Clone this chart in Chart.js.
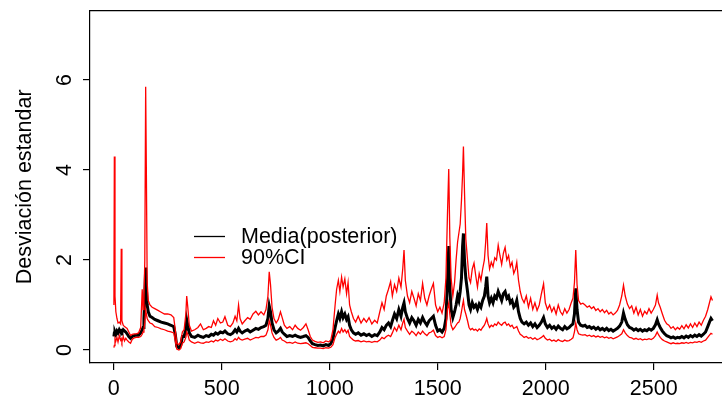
<!DOCTYPE html>
<html>
<head>
<meta charset="utf-8">
<script src="https://cdn.jsdelivr.net/npm/chart.js@4.4.1/dist/chart.umd.min.js"></script>
<style>
  html, body { margin: 0; padding: 0; background: #ffffff; overflow: hidden; }
  #wrap { width: 722px; height: 405px; }
</style>
</head>
<body>
<div id="wrap"><canvas id="c" width="722" height="405"></canvas></div>
<script>
// ---- data ----
const idx = [
  1,3,6,10,15,20,26,32,35,38,44,50,56,62,70,78,86,95,105,115,125,132,136,140,144,148,151,155,160,168,178,190,205,220,235,250,265,278,285,292,302,310,318,326,334,338,343,350,360,375,390,402,415,428,440,452,462,472,482,494,505,515,528,540,552,562,570,578,585,595,607,620,632,645,658,670,682,695,705,714,720,726,733,742,752,762,772,780,790,802,815,828,840,852,865,878,890,900,910,920,932,945,958,970,982,995,1005,1015,1025,1032,1040,1047,1055,1062,1070,1078,1085,1092,1100,1110,1120,1132,1145,1158,1170,1182,1195,1208,1220,1232,1242,1252,1262,1272,1282,1290,1300,1310,1320,1330,1338,1344,1350,1360,1370,1380,1390,1400,1410,1420,1430,1440,1450,1460,1470,1480,1490,1500,1510,1520,1530,1538,1545,1551,1556,1562,1570,1578,1585,1592,1598,1604,1610,1615,1619,1624,1630,1638,1645,1652,1660,1668,1676,1684,1692,1700,1708,1716,1722,1727,1733,1740,1748,1756,1764,1772,1780,1788,1796,1804,1812,1820,1828,1836,1844,1852,1860,1866,1874,1882,1890,1900,1910,1920,1930,1940,1950,1960,1970,1980,1990,1998,2008,2018,2028,2038,2048,2058,2068,2078,2088,2098,2108,2118,2126,2133,2139,2145,2152,2162,2172,2182,2192,2202,2212,2222,2232,2242,2252,2262,2272,2282,2292,2302,2312,2322,2332,2342,2352,2360,2368,2378,2388,2398,2408,2418,2428,2438,2448,2458,2468,2478,2488,2498,2508,2516,2522,2530,2540,2550,2560,2570,2580,2590,2600,2610,2620,2630,2640,2650,2660,2670,2680,2690,2700,2710,2720,2730,2740,2750,2758,2765,2772
];
const meanSD = [
  0.30,0.38,0.40,0.35,0.42,0.38,0.45,0.40,0.42,0.40,0.45,0.42,0.40,0.36,0.30,0.26,0.30,0.32,0.33,0.33,0.38,0.45,0.50,0.70,1.20,1.83,1.40,1.00,0.85,0.75,0.72,0.68,0.65,0.62,0.60,0.58,0.55,0.52,0.35,0.08,0.05,0.10,0.30,0.30,0.45,0.67,0.55,0.38,0.30,0.28,0.33,0.30,0.28,0.32,0.30,0.35,0.33,0.38,0.35,0.40,0.38,0.42,0.36,0.34,0.38,0.45,0.40,0.48,0.42,0.38,0.42,0.45,0.40,0.44,0.48,0.46,0.50,0.52,0.55,0.70,0.98,0.85,0.60,0.45,0.38,0.42,0.48,0.40,0.35,0.30,0.32,0.30,0.33,0.30,0.28,0.30,0.32,0.28,0.20,0.14,0.12,0.10,0.11,0.09,0.12,0.10,0.14,0.25,0.50,0.65,0.80,0.70,0.85,0.72,0.80,0.68,0.74,0.55,0.45,0.38,0.35,0.38,0.33,0.36,0.32,0.35,0.30,0.34,0.32,0.40,0.50,0.45,0.55,0.60,0.52,0.65,0.80,0.70,0.90,0.75,0.95,1.05,0.85,0.70,0.60,0.72,0.65,0.55,0.68,0.60,0.72,0.62,0.55,0.65,0.70,0.75,0.55,0.42,0.45,0.40,0.48,0.70,1.50,2.31,1.40,0.90,0.72,0.85,1.00,1.20,1.10,1.30,1.60,2.30,2.59,2.00,1.60,1.30,1.00,0.90,1.05,0.95,1.00,0.90,1.02,0.95,1.10,1.20,1.40,1.63,1.20,1.05,1.15,1.05,1.20,1.15,1.30,1.20,1.10,1.25,1.30,1.15,1.20,1.05,1.10,0.95,1.00,1.10,0.85,0.70,0.62,0.58,0.62,0.55,0.60,0.52,0.58,0.50,0.55,0.62,0.72,0.58,0.50,0.55,0.48,0.52,0.46,0.53,0.48,0.45,0.52,0.47,0.50,0.55,0.58,0.80,1.37,0.90,0.62,0.55,0.53,0.55,0.50,0.52,0.48,0.51,0.46,0.50,0.45,0.48,0.44,0.48,0.43,0.46,0.42,0.45,0.48,0.53,0.62,0.82,0.68,0.56,0.50,0.48,0.44,0.47,0.43,0.46,0.42,0.45,0.43,0.47,0.44,0.48,0.56,0.67,0.58,0.50,0.42,0.36,0.32,0.30,0.27,0.29,0.26,0.28,0.27,0.30,0.27,0.31,0.28,0.32,0.29,0.33,0.30,0.34,0.31,0.35,0.40,0.52,0.62,0.70,0.65
];
const upperCI = [
  1.00,4.30,1.20,0.85,0.70,0.60,0.62,0.58,2.25,0.65,0.55,0.52,0.50,0.48,0.40,0.32,0.35,0.36,0.36,0.38,0.50,1.35,0.90,1.10,2.00,5.85,4.10,1.50,1.10,1.00,0.95,0.92,0.88,0.84,0.80,0.80,0.78,0.72,0.45,0.15,0.12,0.18,0.40,0.45,0.80,1.20,0.95,0.55,0.42,0.45,0.50,0.58,0.45,0.48,0.52,0.50,0.65,0.55,0.70,0.60,0.62,0.74,0.55,0.52,0.60,0.75,0.65,1.00,0.70,0.58,0.65,0.72,0.68,0.80,0.86,0.78,0.85,0.78,0.90,1.20,1.74,1.45,0.95,0.70,0.60,0.68,0.85,0.72,0.55,0.48,0.52,0.45,0.55,0.48,0.44,0.50,0.58,0.45,0.30,0.22,0.19,0.17,0.18,0.16,0.20,0.18,0.22,0.45,1.00,1.35,1.55,1.30,1.62,1.40,1.58,1.25,1.50,1.00,0.85,0.70,0.62,0.75,0.60,0.70,0.62,0.72,0.58,0.66,0.60,0.85,1.05,0.90,1.20,1.35,1.52,1.20,1.45,1.30,1.60,1.40,1.80,2.22,1.55,1.20,1.05,1.30,1.15,0.98,1.25,1.10,1.48,1.15,1.00,1.20,1.35,1.48,1.00,0.85,0.95,0.82,1.05,1.60,3.00,4.02,2.50,1.60,1.20,1.50,2.00,2.40,2.60,2.80,3.33,3.90,4.52,3.50,2.47,2.00,1.60,1.50,1.80,1.93,1.65,1.40,1.70,1.55,1.80,2.00,2.40,2.82,2.10,1.80,1.95,1.85,2.05,2.00,2.33,2.10,1.90,2.15,2.28,2.00,2.10,1.85,1.95,1.70,1.80,1.95,1.55,1.30,1.15,1.05,1.20,0.95,1.15,0.90,1.05,0.88,1.00,1.25,1.47,1.05,0.90,1.00,0.85,0.95,0.80,1.00,0.85,0.78,0.92,0.82,0.90,1.05,1.15,1.50,2.22,1.45,1.10,1.02,1.04,1.00,0.95,0.98,0.92,0.96,0.88,0.92,0.85,0.90,0.83,0.88,0.80,0.84,0.78,0.82,0.88,1.00,1.20,1.44,1.20,1.02,0.92,0.98,0.82,0.95,0.78,0.90,0.75,0.86,0.80,0.92,0.82,0.90,1.00,1.22,1.05,0.95,0.80,0.66,0.58,0.55,0.48,0.52,0.45,0.50,0.46,0.54,0.47,0.56,0.49,0.58,0.50,0.60,0.52,0.62,0.55,0.66,0.75,0.90,1.05,1.18,1.10
];
const lowerCI = [
  0.05,0.10,0.25,0.20,0.28,0.18,0.32,0.22,0.25,0.18,0.30,0.20,0.26,0.22,0.18,0.15,0.24,0.27,0.28,0.28,0.30,0.35,0.40,0.45,0.60,0.90,0.80,0.70,0.65,0.60,0.58,0.52,0.50,0.47,0.45,0.42,0.40,0.38,0.20,0.02,0.00,0.03,0.15,0.18,0.28,0.40,0.35,0.22,0.18,0.15,0.18,0.16,0.15,0.18,0.17,0.20,0.18,0.22,0.20,0.24,0.21,0.25,0.20,0.18,0.20,0.25,0.22,0.28,0.24,0.22,0.24,0.26,0.22,0.25,0.28,0.27,0.30,0.30,0.33,0.45,0.65,0.55,0.38,0.28,0.22,0.24,0.28,0.22,0.20,0.16,0.17,0.15,0.18,0.15,0.14,0.15,0.16,0.14,0.10,0.06,0.05,0.04,0.04,0.03,0.05,0.04,0.06,0.12,0.28,0.35,0.42,0.38,0.48,0.40,0.45,0.38,0.44,0.30,0.26,0.22,0.20,0.21,0.18,0.20,0.18,0.19,0.17,0.19,0.18,0.22,0.28,0.25,0.30,0.33,0.30,0.38,0.50,0.42,0.55,0.45,0.60,0.68,0.50,0.42,0.35,0.42,0.38,0.32,0.40,0.35,0.42,0.36,0.32,0.38,0.40,0.44,0.32,0.28,0.30,0.27,0.30,0.45,0.90,1.05,0.80,0.55,0.45,0.50,0.55,0.60,0.62,0.70,0.85,1.00,1.10,0.90,0.80,0.65,0.50,0.45,0.48,0.44,0.46,0.42,0.47,0.44,0.50,0.55,0.62,0.70,0.58,0.50,0.55,0.52,0.58,0.55,0.62,0.58,0.55,0.60,0.62,0.55,0.58,0.52,0.55,0.48,0.50,0.52,0.42,0.35,0.32,0.28,0.30,0.26,0.28,0.24,0.27,0.23,0.25,0.28,0.32,0.26,0.22,0.24,0.20,0.22,0.19,0.23,0.20,0.19,0.22,0.20,0.21,0.24,0.27,0.40,0.60,0.45,0.36,0.34,0.33,0.34,0.31,0.33,0.30,0.32,0.29,0.31,0.28,0.30,0.27,0.29,0.26,0.28,0.25,0.27,0.29,0.32,0.36,0.45,0.38,0.32,0.28,0.27,0.24,0.26,0.23,0.25,0.22,0.24,0.23,0.25,0.23,0.26,0.32,0.40,0.34,0.28,0.23,0.20,0.18,0.16,0.14,0.16,0.14,0.15,0.14,0.16,0.15,0.17,0.15,0.17,0.16,0.18,0.17,0.19,0.17,0.20,0.22,0.28,0.33,0.37,0.35
];
const xTicks = [0, 500, 1000, 1500, 2000, 2500];
const yTicks = [0, 2, 4, 6];
const seriesNames = ['Media(posterior)', '90%CI'];
const yTitle = 'Desviación estandar';

// ---- chart ----
const FONT = 'Liberation Sans, Arial, Helvetica, sans-serif';
const FS = 21.5;
const pts = vals => idx.map((t, i) => ({ x: t, y: vals[i] }));

const boxPlugin = {
  id: 'box',
  afterDatasetsDraw(chart) {
    const { ctx, chartArea: a } = chart;
    ctx.save();
    ctx.strokeStyle = '#000';
    ctx.lineWidth = 1.2;
    ctx.beginPath();
    ctx.moveTo(a.left, a.top);
    ctx.lineTo(a.right + 5, a.top);
    ctx.stroke();
    ctx.restore();
  }
};

const legendPlugin = {
  id: 'rLegend',
  afterDraw(chart) {
    const { ctx } = chart;
    const items = [
      { label: chart.data.datasets[0].label, color: chart.data.datasets[0].borderColor, y: 236.5 },
      { label: chart.data.datasets[1].label, color: chart.data.datasets[1].borderColor, y: 257.5 }
    ];
    ctx.save();
    ctx.font = FS + 'px ' + FONT;
    ctx.textBaseline = 'middle';
    ctx.textAlign = 'left';
    items.forEach(it => {
      ctx.strokeStyle = it.color;
      ctx.lineWidth = 1.3;
      ctx.beginPath();
      ctx.moveTo(194, it.y);
      ctx.lineTo(225, it.y);
      ctx.stroke();
      ctx.fillStyle = '#000';
      ctx.fillText(it.label, 241, it.y + 1);
    });
    ctx.restore();
  }
};

new Chart(document.getElementById('c'), {
  type: 'line',
  data: {
    datasets: [
      { label: seriesNames[0], data: pts(meanSD), borderColor: '#000000', borderWidth: 3, pointRadius: 0, tension: 0, order: 2 },
      { label: seriesNames[1], data: pts(upperCI), borderColor: '#ff0000', borderWidth: 1.3, pointRadius: 0, tension: 0, order: 1 },
      { label: seriesNames[1] + ' lower', data: pts(lowerCI), borderColor: '#ff0000', borderWidth: 1.3, pointRadius: 0, tension: 0, order: 1 }
    ]
  },
  options: {
    responsive: false,
    devicePixelRatio: 1,
    animation: false,
    layout: { padding: { top: 10.7, right: 0, bottom: 0, left: 0 } },
    plugins: { legend: { display: false }, tooltip: { enabled: false } },
    scales: {
      x: {
        type: 'linear',
        min: -109.7,
        max: 2816,
        afterBuildTicks: s => { s.ticks = xTicks.map(v => ({ value: v })); },
        afterFit: s => { s.height = 42; s.paddingLeft = 0; s.paddingRight = 0; },
        grid: { display: true, drawOnChartArea: false, drawTicks: true, tickLength: 7, color: '#000', lineWidth: 1.2 },
        border: { display: true, color: '#000', width: 1.2 },
        ticks: { color: '#000', font: { family: FONT, size: FS }, padding: 6, maxRotation: 0, autoSkip: false, callback: v => String(v) }
      },
      y: {
        type: 'linear',
        min: -0.289,
        max: 7.54,
        afterBuildTicks: s => { s.ticks = yTicks.map(v => ({ value: v })); },
        afterFit: s => { s.width = 90; s.paddingTop = 0; s.paddingBottom = 0; },
        grid: { display: true, drawOnChartArea: false, drawTicks: true, tickLength: 7, color: '#000', lineWidth: 1.2 },
        border: { display: true, color: '#000', width: 1.2 },
        ticks: { color: '#000', font: { family: FONT, size: FS }, padding: 12, minRotation: 90, maxRotation: 90, crossAlign: 'center', autoSkip: false, callback: v => String(v) },
        title: { display: true, text: yTitle, color: '#000', font: { family: FONT, size: FS }, padding: { top: 12, bottom: 0 } }
      }
    }
  },
  plugins: [boxPlugin, legendPlugin]
});
</script>
</body>
</html>
